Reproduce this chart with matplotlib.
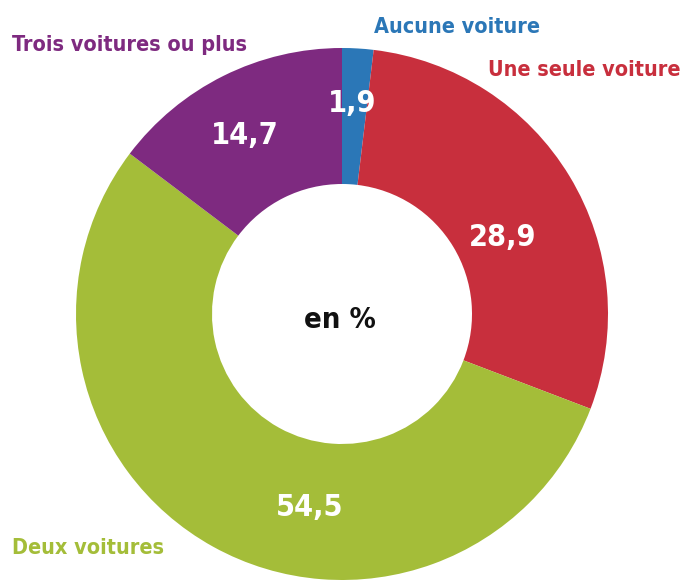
import matplotlib
matplotlib.use("Agg")
import matplotlib.pyplot as plt

categories = ["Aucune voiture", "Une seule voiture", "Deux voitures", "Trois voitures ou plus"]
values = [1.9, 28.9, 54.5, 14.7]
value_labels = ["1,9", "28,9", "54,5", "14,7"]
colors = ["#2b77b7", "#c82f3d", "#a4bd39", "#7e2a80"]

plt.rcParams['font.family'] = ['DejaVu Sans']
plt.rcParams['font.stretch'] = 'condensed'

fig = plt.figure(figsize=(6.84, 5.80), dpi=100)
ax = fig.add_axes([0, 0, 1, 1])

cx, cy, r = 342, 266, 266
wedges, _ = ax.pie(values, colors=colors, startangle=90, counterclock=False,
                   center=(cx, cy), radius=r,
                   wedgeprops=dict(width=136, linewidth=0))
ax.set_xlim(0, 684)
ax.set_ylim(0, 580)
ax.set_aspect('equal')
ax.axis('off')

# value labels inside the ring (pixel positions, y from top)
val_pos = [(352, 103), (503, 237), (310, 507), (245, 135)]
for (x, y), t in zip(val_pos, value_labels):
    ax.text(x, 580 - y, t, color="white", fontsize=22, fontweight="bold",
            fontstretch="condensed", ha="center", va="center")

ax.text(340, 580 - 320, "en %", color="#111111", fontsize=21, fontweight="bold",
        fontstretch="condensed", ha="center", va="center")

# category labels
cat_pos = [(457, 27, "center"), (680, 70, "right"), (12, 548, "left"), (12, 45, "left")]
for (x, y, ha), t, c in zip(cat_pos, categories, colors):
    ax.text(x, 580 - y, t, color=c, fontsize=15.5, fontweight="bold",
            fontstretch="condensed", ha=ha, va="center")

fig.savefig("out.png", dpi=100)
